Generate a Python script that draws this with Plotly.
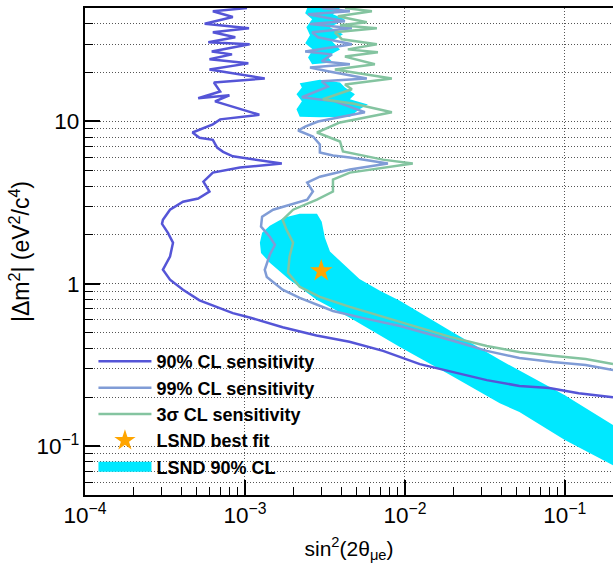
import math
import plotly.graph_objects as go

# ---------------- data ----------------
x_range = [1e-4, 0.2]          # sin^2(2theta_mue)
y_range = [0.05, 50]           # |Delta m^2| (eV^2/c^4)

# 90% CL sensitivity
x90 = [1.03e-3, 6.3e-4, 8.4e-4, 5.6e-4, 1.06e-3, 6.3e-4, 8.7e-4, 5.9e-4, 1.07e-3, 6.2e-4,
       8.3e-4, 6.0e-4, 1.05e-3, 6.0e-4, 1.33e-3, 6.4e-4, 7.0e-4, 5.1e-4, 8.0e-4, 6.5e-4,
       1.23e-3, 7.0e-4, 6.3e-4, 4.7e-4, 5.2e-4, 6.3e-4, 6.7e-4, 7.3e-4, 8.4e-4, 1.7e-3,
       9.3e-4, 6.3e-4, 5.5e-4, 6.0e-4, 5.1e-4, 4.1e-4, 3.4e-4, 3.07e-4, 3.03e-4, 3.3e-4,
       3.55e-4, 3.4e-4, 3.07e-4, 3.4e-4, 4.1e-4, 5.2e-4, 8.4e-4, 1.07e-3, 1.72e-3, 2.8e-3,
       4.5e-3, 7.3e-3, 1.24e-2, 2.0e-2, 3.25e-2, 5.2e-2, 8.0e-2, 0.122, 0.2]
y90 = [50, 47.7, 44, 40, 37.5, 35.4, 33, 30.8, 29.9, 27,
       25.9, 24.2, 22.8, 20.9, 18.4, 17.4, 15.3, 13.9, 14.5, 13.3,
       11.0, 10.3, 9.6, 8.55, 7.94, 7.7, 6.9, 6.5, 6.1, 5.5,
       5.2, 4.84, 4.26, 3.7, 3.35, 3.2, 2.86, 2.48, 2.34, 2.06,
       1.79, 1.47, 1.22, 1.06, 0.92, 0.79, 0.66, 0.62, 0.54, 0.48,
       0.44, 0.386, 0.32, 0.286, 0.255, 0.235, 0.228, 0.212, 0.2]

# 99% CL sensitivity
x99 = [3.02e-3, 4.53e-3, 2.48e-3, 4.22e-3, 2.55e-3, 4.66e-3, 2.63e-3, 2.86e-3, 4.66e-3, 2.38e-3,
       3.5e-3, 3.02e-3, 4.53e-3, 2.55e-3, 3.3e-3, 5.78e-3, 3.02e-3, 3.3e-3, 2.27e-3, 3.65e-3,
       5.62e-3, 2.86e-3, 2.38e-3, 2.15e-3, 2.66e-3, 2.94e-3, 2.94e-3, 3.55e-3, 4.53e-3, 7.83e-3,
       4.53e-3, 2.94e-3, 2.45e-3, 2.66e-3, 2.45e-3, 1.9e-3, 1.5e-3, 1.28e-3, 1.26e-3, 1.43e-3,
       1.54e-3, 1.43e-3, 1.33e-3, 1.37e-3, 1.72e-3, 2.2e-3, 3.55e-3, 5.78e-3, 9.3e-3, 1.92e-2,
       3.25e-2, 5.2e-2, 8.4e-2, 0.135, 0.2]
y99 = [50, 47.7, 45.7, 41.4, 39.8, 37.5, 35.4, 33, 29.9, 27,
       25.9, 23.5, 22.5, 21.5, 20.4, 18.4, 17.7, 16.4, 14.1, 13.3,
       11.4, 10, 9.3, 8.8, 8.08, 7.21, 6.44, 6.17, 6.0, 5.51,
       5.06, 4.57, 4.2, 3.7, 3.3, 3.07, 2.86, 2.59, 2.25, 1.95,
       1.74, 1.51, 1.22, 1.10, 0.92, 0.82, 0.68, 0.608, 0.55, 0.451,
       0.386, 0.349, 0.33, 0.316, 0.294]

# 3 sigma CL sensitivity
x3s = [4.22e-3, 6.22e-3, 3.81e-3, 5.78e-3, 3.93e-3, 6.68e-3, 3.65e-3, 4.04e-3, 6.68e-3, 4.4e-3,
       6.78e-3, 4.22e-3, 6.49e-3, 3.65e-3, 8.29e-3, 4.22e-3, 4.66e-3, 3.07e-3, 4.72e-3, 8.29e-3,
       3.93e-3, 2.82e-3, 3.93e-3, 4.1e-3, 7.28e-3, 1.12e-2, 4.53e-3, 3.55e-3, 3.55e-3, 2.82e-3,
       2.0e-3, 1.72e-3, 1.82e-3, 2.0e-3, 1.9e-3, 1.86e-3, 2.2e-3, 2.94e-3, 4.53e-3, 9.3e-3,
       1.92e-2, 3.25e-2, 5.2e-2, 8.4e-2, 0.135, 0.2]
y3s = [50, 47.7, 44.5, 40.8, 39.1, 37.5, 35.4, 32.1, 29.9, 27.8,
       26.7, 25.1, 22.5, 20.9, 18.4, 16.9, 15.8, 13.7, 12.9, 11.4,
       9.86, 8.55, 7.53, 6.53, 5.82, 5.51, 4.84, 4.39, 3.7, 3.3,
       2.86, 2.48, 2.15, 1.79, 1.47, 1.17, 0.958, 0.831, 0.721, 0.582,
       0.471, 0.414, 0.38, 0.36, 0.344, 0.321]

# LSND 90% CL allowed region (main band and two islands at large Delta m^2)
lsnd_x = [1.24e-3, 1.28e-3, 1.43e-3, 1.77e-3, 2.2e-3, 2.82e-3, 3.02e-3, 3.16e-3, 3.4e-3, 4.53e-3,
          5.2e-3, 6.98e-3, 9.3e-3, 1.92e-2, 3.92e-2, 0.1, 0.2, 0.2, 0.1, 5.2e-2,
          3.92e-2, 1.92e-2, 9.3e-3, 4.53e-3, 2.82e-3, 1.9e-3, 1.43e-3, 1.26e-3]
lsnd_y = [1.79, 2.06, 2.28, 2.56, 2.7, 2.7, 2.41, 1.92, 1.58, 1.22,
          1.07, 0.905, 0.785, 0.513, 0.34, 0.206, 0.135, 0.0763, 0.109, 0.162,
          0.184, 0.274, 0.408, 0.617, 0.794, 1.06, 1.35, 1.55]
lsnd_top_x = [2.45e-3, 3.93e-3, 3.55e-3, 4.22e-3, 3.4e-3, 4.1e-3, 3.5e-3, 3.93e-3, 3.26e-3, 3.55e-3,
              2.63e-3, 2.48e-3, 2.66e-3, 2.38e-3, 2.55e-3, 2.42e-3, 2.63e-3, 2.38e-3]
lsnd_top_y = [50, 50, 45.7, 42.7, 38.0, 34.4, 31.2, 27.8, 25.1, 23.1,
              22.5, 24.8, 27.8, 30.3, 34.0, 38.0, 42.7, 46.4]
lsnd_mid_x = [2.2e-3, 2.94e-3, 3.93e-3, 4.22e-3, 4.87e-3, 4.53e-3, 5.87e-3, 5.2e-3, 4.53e-3, 2.94e-3,
              2.2e-3, 2.1e-3, 2.27e-3, 2.1e-3, 2.27e-3]
lsnd_mid_y = [17.2, 18.1, 17.4, 16.2, 14.7, 13.7, 12.7, 11.9, 10.7, 10.6,
              10.7, 11.9, 13.3, 14.7, 16.2]

best_fit_x = [3.0e-3]
best_fit_y = [1.2]

names = ["90% CL sensitivity", "99% CL sensitivity", "3σ CL sensitivity",
         "LSND best fit", "LSND 90% CL"]

# ---------------- styling ----------------
FONT = "Liberation Sans, Arial, Helvetica, sans-serif"
C90 = "rgb(85,85,215)"
C99 = "rgb(128,156,214)"
C3S = "rgb(132,196,160)"
CLSND = "rgb(0,232,255)"
GRID = "#555555"

fig = go.Figure()

for px, py in [(lsnd_x, lsnd_y), (lsnd_top_x, lsnd_top_y), (lsnd_mid_x, lsnd_mid_y)]:
    fig.add_trace(go.Scatter(x=px, y=py, mode="lines", fill="toself", fillcolor=CLSND,
                             line=dict(width=0, color=CLSND), showlegend=False,
                             hoverinfo="skip"))

for xs, ys, col, nm in [(x90, y90, C90, names[0]), (x99, y99, C99, names[1]),
                        (x3s, y3s, C3S, names[2])]:
    fig.add_trace(go.Scatter(x=xs, y=ys, mode="lines", name=nm,
                             line=dict(color=col, width=2.5)))

fig.add_trace(go.Scatter(x=best_fit_x, y=best_fit_y, mode="markers", name=names[3],
                         marker=dict(symbol="star", size=17, color="#ffa500",
                                     line=dict(width=0))))

# legend entry for the LSND region (wide cyan box)
fig.add_trace(go.Scatter(x=[None], y=[None], mode="lines", name=names[4],
                         line=dict(color=CLSND, width=19)))

axis_common = dict(
    type="log", dtick=1, exponentformat="power", showexponent="all",
    ticks="inside", ticklen=15, tickwidth=1.5, tickcolor="black",
    showline=True, linecolor="black", linewidth=2, mirror=True,
    showgrid=True, gridcolor=GRID, gridwidth=1, griddash="1px,2px",
    zeroline=False, automargin=False,
    tickfont=dict(family=FONT, size=18, color="black"),
)

fig.update_xaxes(
    **axis_common,
    range=[math.log10(x_range[0]), math.log10(x_range[1])],
    minor=dict(ticks="inside", ticklen=8, tickwidth=1, tickcolor="black",
               dtick="D1", showgrid=False),
    title=dict(text="sin<sup>2</sup>(2θ<sub>μe</sub>)", standoff=14,
               font=dict(family=FONT, size=21, color="black")),
)
fig.update_yaxes(
    **axis_common,
    range=[math.log10(y_range[0]), math.log10(y_range[1])],
    minor=dict(ticks="inside", ticklen=8, tickwidth=1, tickcolor="black",
               dtick="D1", showgrid=True, gridcolor=GRID, gridwidth=1,
               griddash="1px,2px"),
    title=dict(text="|Δm<sup>2</sup>| (eV<sup>2</sup>/c<sup>4</sup>)", standoff=0,
               font=dict(family=FONT, size=23, color="black")),
)

# white panel behind the legend (hides the grid there, as in the original)
fig.add_shape(type="rect", xref="paper", yref="paper", x0=0.0, x1=0.527,
              y0=0.035, y1=0.292, fillcolor="white", line=dict(width=0),
              layer="between")

fig.update_layout(
    width=613, height=563,
    margin=dict(l=85, r=0, t=8, b=68, autoexpand=False),
    paper_bgcolor="white", plot_bgcolor="white",
    font=dict(family=FONT, color="black"),
    hovermode=False,
    legend=dict(x=0.016, y=0.312, xanchor="left", yanchor="top",
                bgcolor="rgba(0,0,0,0)", borderwidth=0, itemwidth=53,
                font=dict(family=FONT, size=18, color="black", weight="bold"),
                tracegroupgap=0, traceorder="normal"),
)

fig.write_html("out.html", config={"displayModeBar": False},
               post_script="document.body.style.margin='0';document.body.style.overflow='hidden';")
